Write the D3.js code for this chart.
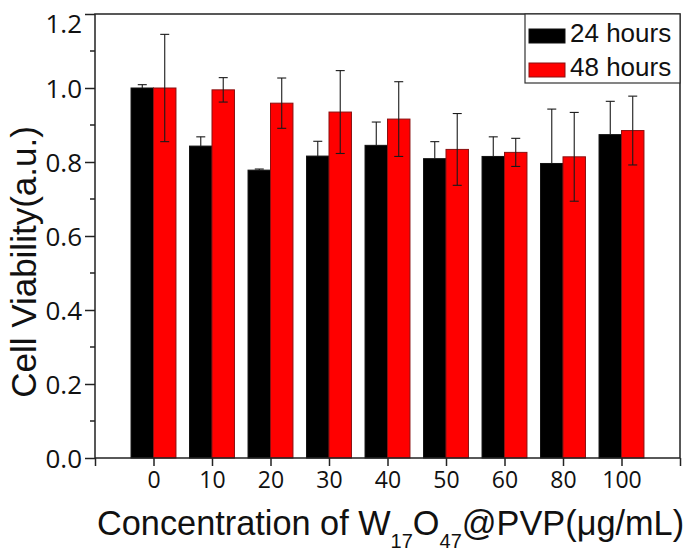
<!DOCTYPE html>
<html lang="en">
<head>
<meta charset="utf-8">
<title>Cell viability</title>
<script src="https://d3js.org/d3.v7.min.js"></script>
<style>
  body { margin: 0; background: #fff; }
  svg { display: block; }
</style>
</head>
<body>
<div class="chart"></div>
<script>
// values
const categories = ["0", "10", "20", "30", "40", "50", "60", "80", "100"];
const viability24 = [1.000, 0.843, 0.778, 0.816, 0.845, 0.809, 0.815, 0.796, 0.874];
const error24     = [0.009, 0.025, 0.003, 0.040, 0.063, 0.046, 0.053, 0.147, 0.090];
const viability48 = [1.000, 0.995, 0.959, 0.935, 0.916, 0.834, 0.826, 0.814, 0.885];
const error48     = [0.145, 0.033, 0.068, 0.112, 0.101, 0.097, 0.038, 0.120, 0.093];
const seriesNames = ["24 hours", "48 hours"];
const yTicks = [0, 0.2, 0.4, 0.6, 0.8, 1.0, 1.2];
const yMinor = [0.1, 0.3, 0.5, 0.7, 0.9, 1.1];

const width = 687, height = 552;
const plotL = 95, plotR = 680, plotT = 14, plotB = 458;
const barW = 0.384;   // in category units

const svg = d3.select(".chart").append("svg")
    .attr("width", width)
    .attr("height", height);

const x = d3.scaleLinear().domain([-1, categories.length]).range([plotL, plotR]);
const y = d3.scaleLinear().domain([0, 1.2]).range([plotB, plotT]);

const series = [
    {name: seriesNames[0], vals: viability24, errs: error24, fill: "#000", stroke: "#111", off: -barW},
    {name: seriesNames[1], vals: viability48, errs: error48, fill: "#ff0000", stroke: "#8a1010", off: 0}
];

// bars
series.forEach(s => {
    svg.append("g").selectAll("rect")
        .data(s.vals)
        .enter()
        .append("rect")
        .attr("x", (d, i) => x(i + s.off))
        .attr("y", d => y(d))
        .attr("width", x(barW) - x(0))
        .attr("height", d => y(0) - y(d))
        .attr("fill", s.fill)
        .attr("stroke", s.stroke)
        .attr("stroke-width", 1);
});

// error bars (lower half of the black ones disappears into the bar)
series.forEach((s, k) => {
    const g = svg.append("g").attr("stroke", "#1a1a1a").attr("stroke-width", 1.1);
    s.vals.forEach((v, i) => {
        const cx = x(i + s.off + barW / 2);
        const hi = y(v + s.errs[i]), lo = y(v - s.errs[i]);
        g.append("line").attr("x1", cx).attr("x2", cx).attr("y1", hi).attr("y2", k === 0 ? y(v) : lo);
        g.append("line").attr("x1", cx - 4.5).attr("x2", cx + 4.5).attr("y1", hi).attr("y2", hi);
        if (k === 1)
            g.append("line").attr("x1", cx - 4.5).attr("x2", cx + 4.5).attr("y1", lo).attr("y2", lo);
    });
});

// frame
svg.append("rect")
    .attr("x", plotL).attr("y", plotT)
    .attr("width", plotR - plotL).attr("height", plotB - plotT)
    .attr("fill", "none")
    .attr("stroke", "#222")
    .attr("stroke-width", 1.5);

// y axis
const yAxis = svg.append("g")
    .attr("transform", `translate(${plotL},0)`)
    .call(d3.axisLeft(y).tickValues(yTicks).tickFormat(d3.format(".1f")).tickSize(10).tickPadding(3));
yAxis.select(".domain").remove();
yAxis.selectAll("line").attr("stroke", "#222").attr("stroke-width", 1.5);
yAxis.selectAll("text")
    .attr("font-family", "Open Sans")
    .attr("font-size", 26)
    .attr("fill", "#111")
    .attr("dy", d => d === 1.2 ? "0.72em" : "0.36em");

svg.append("g").selectAll("line")
    .data(yMinor)
    .enter()
    .append("line")
    .attr("x1", plotL - 5).attr("x2", plotL)
    .attr("y1", d => y(d)).attr("y2", d => y(d))
    .attr("stroke", "#222").attr("stroke-width", 1.5);

// x axis
const xAxis = svg.append("g")
    .attr("transform", `translate(0,${plotB})`)
    .call(d3.axisBottom(x).tickValues(d3.range(-1, categories.length + 1))
        .tickFormat(d => categories[d] || "").tickSize(8).tickPadding(6));
xAxis.select(".domain").remove();
xAxis.selectAll("line").attr("stroke", "#222").attr("stroke-width", 1.5);
xAxis.selectAll("text")
    .attr("font-family", "Open Sans")
    .attr("font-size", 23)
    .attr("fill", "#111");

// axis titles
svg.append("text")
    .attr("transform", "translate(36,262) rotate(-90)")
    .attr("text-anchor", "middle")
    .attr("font-family", "Liberation Sans")
    .attr("font-size", 35)
    .attr("fill", "#111")
    .text("Cell Viability(a.u.)");

const xt = svg.append("text")
    .attr("x", 97).attr("y", 535)
    .attr("font-family", "Liberation Sans")
    .attr("font-size", 34.3)
    .attr("fill", "#111");
xt.append("tspan").text("Concentration of W");
xt.append("tspan").attr("dy", 13).attr("font-size", 20).text("17");
xt.append("tspan").attr("dy", -13).text("O");
xt.append("tspan").attr("dy", 13).attr("font-size", 20).text("47");
xt.append("tspan").attr("dy", -13).text("@PVP(\u03bcg/mL)");

// legend
const legend = svg.append("g");
legend.append("rect")
    .attr("x", 525).attr("y", plotT)
    .attr("width", plotR - 525).attr("height", 69)
    .attr("fill", "#fff").attr("stroke", "#333").attr("stroke-width", 1.2);
series.forEach((s, i) => {
    legend.append("rect")
        .attr("x", 529).attr("y", 29 + i * 34)
        .attr("width", 36).attr("height", 14)
        .attr("fill", s.fill).attr("stroke", s.stroke);
    legend.append("text")
        .attr("x", 570).attr("y", 42 + i * 34)
        .attr("font-family", "Liberation Sans")
        .attr("font-size", 26)
        .attr("fill", "#111")
        .text(s.name);
});
</script>
</body>
</html>
